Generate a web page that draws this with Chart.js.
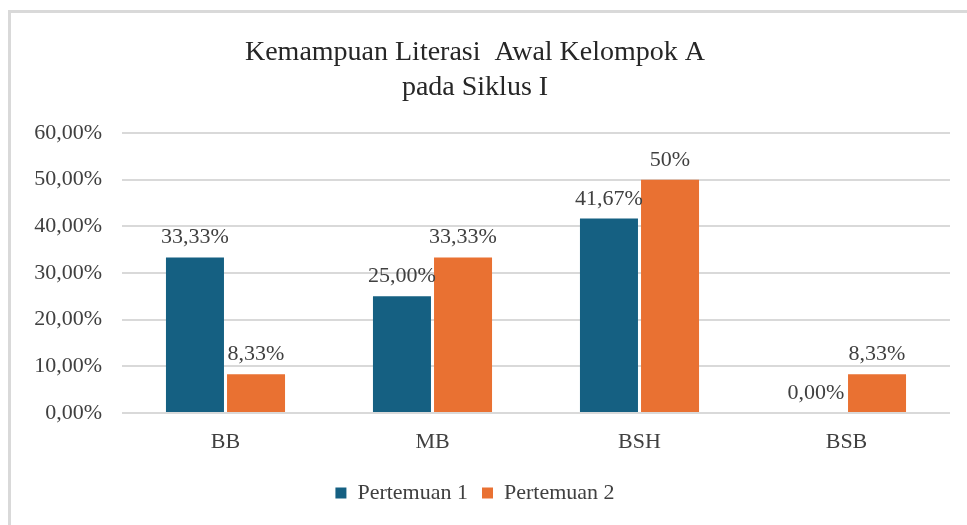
<!DOCTYPE html>
<html>
<head>
<meta charset="utf-8">
<script src="https://cdn.jsdelivr.net/npm/chart.js@4"></script>
<style>
  html, body { margin: 0; padding: 0; background: #fff; overflow: hidden; }
  .frame {
    position: absolute; left: 8px; top: 10px;
    width: 1000px; height: 600px;
    border: 3px solid #d9d9d9;
  }
  .wrap { position: absolute; left: 0; top: 0; width: 967px; height: 525px; }
</style>
</head>
<body>
<div class="frame"></div>
<div class="wrap"><canvas id="barChart"></canvas></div>
<script>
// DATA

const categories = ['BB', 'MB', 'BSH', 'BSB'];
const pertemuan1 = [33.33, 25.00, 41.67, 0.00];
const pertemuan2 = [8.33, 33.33, 50.00, 8.33];
const labels1 = ['33,33%', '25,00%', '41,67%', '0,00%'];
const labels2 = ['8,33%', '33,33%', '50%', '8,33%'];
const yTicks = ['0,00%', '10,00%', '20,00%', '30,00%', '40,00%', '50,00%', '60,00%'];

const serif = "'Liberation Serif', 'Times New Roman', serif";

// value labels above the bars
const barLabels = {
  id: 'barLabels',
  afterDatasetsDraw(chart) {
    const ctx = chart.ctx;
    const texts = [labels1, labels2];
    ctx.save();
    ctx.font = '22px ' + serif;
    ctx.fillStyle = '#404040';
    ctx.textAlign = 'center';
    ctx.textBaseline = 'alphabetic';
    chart.data.datasets.forEach((ds, i) => {
      chart.getDatasetMeta(i).data.forEach((bar, j) => {
        ctx.fillText(texts[i][j], bar.x, bar.y - 14);
      });
    });
    ctx.restore();
  }
};

const barCtx = document.getElementById('barChart');

new Chart(barCtx, {
  type: 'bar',
  data: {
    labels: categories,
    datasets: [
      {
        label: 'Pertemuan 1',
        data: pertemuan1,
        backgroundColor: '#156082',
        categoryPercentage: 0.59,
        barPercentage: 0.95
      },
      {
        label: 'Pertemuan 2',
        data: pertemuan2,
        backgroundColor: '#E97132',
        categoryPercentage: 0.59,
        barPercentage: 0.95
      }
    ]
  },
  options: {
    responsive: true,
    maintainAspectRatio: false,
    animation: false,
    events: [],
    layout: {
      padding: { left: 0, right: 17, top: 0, bottom: 11 }
    },
    plugins: {
      title: {
        display: true,
        text: ['Kemampuan Literasi  Awal Kelompok A', 'pada Siklus I'],
        color: '#262626',
        font: { family: serif, size: 28, weight: 'normal', lineHeight: 1.25 },
        padding: { top: 35, bottom: 28 }
      },
      legend: {
        position: 'bottom',
        labels: {
          color: '#404040',
          font: { family: serif, size: 22 },
          boxWidth: 11,
          boxHeight: 11,
          padding: 14
        }
      },
      tooltip: { enabled: false }
    },
    scales: {
      x: {
        afterFit: s => { s.height = 55; },
        grid: { display: false },
        border: { display: false },
        ticks: {
          color: '#404040',
          font: { family: serif, size: 22 },
          padding: 8
        }
      },
      y: {
        min: 0,
        max: 60,
        afterFit: s => { s.width = 122; },
        afterBuildTicks: s => {
          s.ticks = yTicks.map((t, i) => ({ value: i * 10 }));
        },
        grid: { color: '#d9d9d9', lineWidth: 2, drawTicks: false },
        border: { display: false },
        ticks: {
          color: '#404040',
          font: { family: serif, size: 22 },
          padding: 20,
          callback: (v, i) => yTicks[i]
        }
      }
    }
  },
  plugins: [barLabels]
});
</script>
</body>
</html>
